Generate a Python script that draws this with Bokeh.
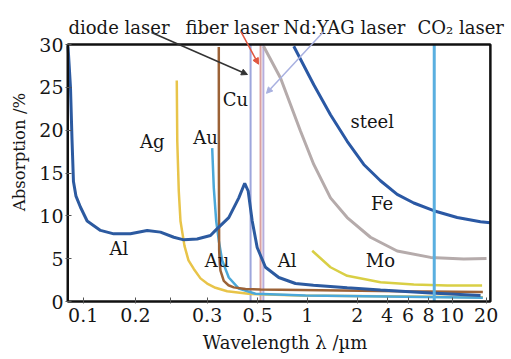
from bokeh.plotting import figure
from bokeh.models import Range1d, FixedTicker, CustomJSTickFormatter, Label, Arrow, NormalHead
from bokeh.embed import file_html
from bokeh.resources import INLINE

# ---- data (wavelength in um, absorption in %) ----
al_wl = [0.0818, 0.0845, 0.0862, 0.0879, 0.0909, 0.0965, 0.1054, 0.1258, 0.150, 0.187,
         0.2336, 0.2786, 0.3324, 0.3796, 0.453, 0.5407, 0.5777, 0.689, 0.787, 0.851,
         0.891, 0.940, 1.004, 1.121, 1.337, 1.668, 2.117, 3.311, 5.149, 10.0, 19.4]
al_abs = [29.8, 25.0, 19.0, 14.0, 12.3, 11.0, 9.4, 8.3, 7.9, 7.9,
          8.3, 8.1, 7.5, 7.2, 7.3, 7.7, 8.3, 9.8, 12.1, 13.8,
          12.9, 9.4, 6.3, 4.0, 2.8, 2.1, 1.9, 1.6, 1.35, 1.0, 0.7]

ag_wl = [0.3458, 0.3481, 0.3551, 0.3632, 0.3705, 0.383, 0.4039, 0.4333, 0.4735, 0.5174,
         0.5777, 0.6745, 0.919, 1.782, 20.0]
ag_abs = [25.8, 18.7, 12.9, 9.4, 8.3, 6.5, 4.8, 3.8, 2.7, 2.1,
          1.6, 1.2, 0.87, 0.7, 0.5]

au_wl = [0.553, 0.5648, 0.5832, 0.6036, 0.6313, 0.689, 0.787, 0.9817, 1.905, 20.0]
au_abs = [17.9, 13.3, 9.4, 7.1, 4.8, 2.8, 1.5, 0.9, 0.7, 0.45]

cu_wl = [0.6036, 0.6045, 0.6065, 0.612, 0.6173, 0.6448, 0.6862, 0.7362, 0.8597, 1.049, 1.782, 6.71, 20.0]
cu_abs = [29.7, 15.0, 6.0, 4.3, 3.6, 2.4, 1.9, 1.65, 1.45, 1.4, 1.35, 1.2, 1.1]

fe_wl = [1.093, 1.368, 1.782, 2.126, 2.653, 3.311, 4.508, 6.424, 10.0, 15.53, 21.0]
fe_abs = [29.8, 26.1, 19.9, 16.0, 12.1, 9.8, 7.5, 5.9, 5.15, 4.97, 5.03]

steel_wl = [1.631, 2.126, 2.653, 3.311, 4.125, 5.148, 6.424, 8.006, 10.43, 14.23, 19.38, 22.1]
steel_abs = [29.8, 25.3, 21.8, 18.7, 16.0, 14.1, 12.5, 11.5, 10.6, 9.8, 9.3, 9.2]

mo_wl = [2.082, 2.653, 3.311, 5.148, 8.006, 12.46, 19.8]
mo_abs = [5.93, 4.0, 3.0, 2.24, 1.98, 1.86, 1.86]

laser_names = ["diode laser", "fiber laser", "Nd:YAG laser", "CO\u2082 laser"]
laser_wl = [0.92, 1.05, 1.09, 10.5]

x_tick_values = [0.1, 0.2, 0.517, 1.01, 1.95, 3.78, 5.62, 7.43, 9.72, 13.3, 20.9]
x_tick_labels = ["0.1", "0.2", "0.3", "0.5", "1", "2", "4", "6", "8", "10", "20"]
x_minor_ticks = [0.318]
y_tick_values = [0, 5, 10, 15, 20, 25, 30]

# axis limits of the boxed plot area
x_min, x_max = 0.0815, 22.1
y_min, y_max = 0, 30

FONT = "DejaVu Serif"
TXT = "#161616"

# the frame spans the top margin too, so that the laser labels and arrows are not clipped
p = figure(width=511, height=359, x_axis_type="log",
           x_range=Range1d(0.0791, 26.65), y_range=Range1d(-0.233, 35.14),
           output_backend="svg", toolbar_location=None,
           min_border_left=65, min_border_right=7, min_border_top=0, min_border_bottom=56)
p.grid.visible = False
p.background_fill_color = "white"
p.border_fill_color = "white"
p.outline_line_color = None

# axes
xa = p.xaxis[0]
xa.ticker = FixedTicker(ticks=x_tick_values, minor_ticks=x_minor_ticks)
xa.formatter = CustomJSTickFormatter(args=dict(vals=x_tick_values, labs=x_tick_labels), code="""
let best = -1, bd = 1e9;
for (let i = 0; i < vals.length; i++) {
  const d = Math.abs(Math.log(vals[i]) - Math.log(tick));
  if (d < bd) { bd = d; best = i; }
}
return bd < 1e-3 ? labs[best] : "";
""")
ya = p.yaxis[0]
ya.ticker = FixedTicker(ticks=y_tick_values)
for ax in (xa, ya):
    ax.axis_line_color = None
    ax.major_tick_in = 6
    ax.major_tick_out = 0
    ax.major_tick_line_color = "#555555"
    ax.major_tick_line_width = 1
    ax.minor_tick_in = 6
    ax.minor_tick_out = 0
    ax.minor_tick_line_color = "#555555"
    ax.major_label_text_font = FONT
    ax.major_label_text_font_size = "19px"
    ax.major_label_text_color = TXT
    ax.axis_label_text_font = FONT
    ax.axis_label_text_font_style = "normal"
    ax.axis_label_text_color = TXT
ya.minor_tick_line_color = None
xa.axis_label = "Wavelength \u03bb /\u00b5m"
ya.axis_label = "Absorption /%"
xa.axis_label_text_font_size = "18px"
ya.axis_label_text_font_size = "16.5px"
xa.major_label_standoff = 4
xa.axis_label_standoff = 7
ya.major_label_standoff = 2
ya.axis_label_standoff = 7

# laser lines (behind curves), CO2 later on top
laser_colors = ["#9ea6dc", "#d9a0a0", "#b7aedc", "#5aafe0"]
laser_widths = [2, 2, 2, 3]
p.segment(x0=laser_wl[:3], y0=[y_min] * 3, x1=laser_wl[:3], y1=[y_max] * 3,
          line_color=laser_colors[:3], line_width=2)

# curves
p.line(ag_wl, ag_abs, line_color="#e8c449", line_width=2.5)
p.line(mo_wl, mo_abs, line_color="#d9cf45", line_width=2.5)
p.line(au_wl, au_abs, line_color="#4ba8d9", line_width=2.5)
p.line(cu_wl, cu_abs, line_color="#9c6236", line_width=2.5)
p.line(fe_wl, fe_abs, line_color="#b5abab", line_width=3)
p.line(al_wl, al_abs, line_color="#2c5aa0", line_width=3)
p.line(steel_wl, steel_abs, line_color="#2a58a4", line_width=3)

p.segment(x0=[laser_wl[3]], y0=[y_min], x1=[laser_wl[3]], y1=[y_max],
          line_color=laser_colors[3], line_width=laser_widths[3])

# plot box
p.quad(left=[x_min], right=[x_max], bottom=[y_min], top=[y_max],
       fill_color=None, line_color="#111111", line_width=2.5)

# curve labels
curve_labels = [("Al", 0.1603, 6.13), ("Ag", 0.2496, 18.7), ("Au", 0.506, 19.1),
                ("Cu", 0.753, 23.6), ("Au", 0.5907, 4.77), ("Al", 1.494, 4.77),
                ("steel", 4.612, 21.0), ("Fe", 5.264, 11.4), ("Mo", 5.148, 4.77)]
for t, x, y in curve_labels:
    p.add_layout(Label(x=x, y=y, text=t, text_font=FONT, text_font_size="18px",
                       text_align="center", text_baseline="middle", text_color=TXT))

# laser labels above the box
laser_label_pos = [(0.0823, 32.0), (0.388, 32.0), (1.423, 32.0), (8.41, 32.0)]
for t, (x, y) in zip(laser_names, laser_label_pos):
    p.add_layout(Label(x=x, y=y, text=t, text_font=FONT, text_font_size="18px",
                       text_align="left", text_baseline="alphabetic", text_color=TXT))

# arrows
arrows = [((0.2474, 31.4), (0.8828, 26.5), "#333333"),
          ((0.8098, 31.5), (1.0214, 27.7), "#e0563f"),
          ((2.418, 31.5), (1.1358, 24.3), "#a8b0e0")]
for (x0, y0), (x1, y1), c in arrows:
    p.add_layout(Arrow(x_start=x0, y_start=y0, x_end=x1, y_end=y1, line_color=c, line_width=1.5,
                       end=NormalHead(size=6, fill_color=c, line_color=c)))

open("out.html", "w").write(file_html(p, INLINE))
